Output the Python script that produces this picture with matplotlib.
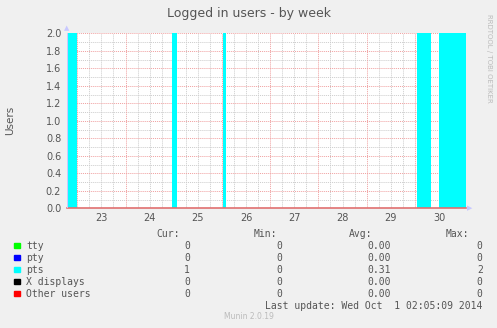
import numpy as np
import matplotlib.pyplot as plt
from matplotlib.transforms import blended_transform_factory

W, H = 497, 328

# Time in days (day of September, 31 = Oct 1), pts as steps
pts_time = [22.78, 22.99, 24.97, 25.06, 26.03, 26.08, 30.05, 30.33, 30.51, 31.06]
pts_value = [2, 0, 2, 0, 2, 0, 2, 0, 2, 2]
x_start, x_end = 22.78, 31.06
day_labels = ['23', '24', '25', '26', '27', '28', '29', '30']

series_names = ['tty', 'pty', 'pts', 'X displays', 'Other users']
series_colors = ['#00ff00', '#0000ff', '#00ffff', '#000000', '#ff0000']
cur_vals = ['0', '0', '1', '0', '0']
min_vals = ['0', '0', '0', '0', '0']
avg_vals = ['0.00', '0.00', '0.31', '0.00', '0.00']
max_vals = ['0', '0', '2', '0', '0']


def px(x, y):
    return x / W, 1 - y / H


fig = plt.figure(figsize=(W / 100, H / 100), dpi=100, facecolor='#f0f0f0')
left, right, top, bottom = 66.7, 466, 33.3, 208.3
ax = fig.add_axes([left / W, 1 - bottom / H, (right - left) / W, (bottom - top) / H])
ax.set_facecolor('white')
ax.set_xlim(x_start, x_end)
ax.set_ylim(0, 2.0)

# grid
for d in np.arange(23, 31.01, 0.25):
    if abs(d - round(d)) < 1e-6:
        continue
    ax.axvline(d, color='#cccccc', lw=0.7, ls=(0, (1, 1)), zorder=1)
for v in np.arange(0.1, 2.0, 0.2):
    ax.axhline(v, color='#cccccc', lw=0.7, ls=(0, (1, 1)), zorder=1)
for d in range(23, 32):
    ax.axvline(d, color='#f0a0a0', lw=0.7, ls=(0, (1, 1)), zorder=1)
for v in np.arange(0.2, 2.01, 0.2):
    ax.axhline(v, color='#f0a0a0', lw=0.7, ls=(0, (1, 1)), zorder=1)

# pts area
ax.fill_between(pts_time, pts_value, step='post', color='#00ffff', lw=0, zorder=2)

# zero series line at baseline
t = [x_start, x_end]
ax.plot(t, [0, 0], color='#e07070', lw=1.2, zorder=3, clip_on=False)

for s in ax.spines.values():
    s.set_visible(False)
ax.axvline(x_start, color='#c8c8ff', lw=0.8, zorder=3)

ax.set_xticks([d + 0.5 for d in range(23, 31)])
ax.set_xticklabels(day_labels)
ax.set_yticks(np.arange(0, 2.01, 0.2))
ax.set_yticklabels(['%.1f' % v for v in np.arange(0, 2.01, 0.2)])
ax.tick_params(axis='both', length=0, labelsize=7, labelcolor='#555555')
ax.tick_params(axis='x', pad=3.5)
ax.tick_params(axis='y', pad=4)

# arrows on axes
fig.text(*px(67, 28.5), '\u25b2', fontsize=5, color='#c8c8ff', ha='center', va='center')
fig.text(*px(470, 208.3), '\u25b6', fontsize=5, color='#c8c8ff', ha='center', va='center')

fig.text(*px(249, 14), 'Logged in users - by week', fontsize=9, color='#555555',
         ha='center', va='center')
fig.text(*px(10, 120), 'Users', fontsize=7.5, color='#555555', rotation=90,
         ha='center', va='center')
fig.text(*px(489, 58), 'RRDTOOL / TOBI OETIKER', fontsize=5, color='#bbbbbb',
         rotation=270, ha='center', va='center')

mono = 'DejaVu Sans Mono'
hy = 233.7
for label, xr in zip(['Cur:', 'Min:', 'Avg:', 'Max:'], [180, 277, 372.7, 469.3]):
    fig.text(*px(xr, hy), label, family=mono, fontsize=7, color='#555555', ha='right', va='center')

for i, name in enumerate(series_names):
    y = 245.7 + 12 * i
    fig.patches.append(plt.Rectangle(px(14, y + 2.7), 5.5 / W, 5.5 / H,
                                     transform=fig.transFigure, color=series_colors[i]))
    fig.text(*px(26.5, y), name, family=mono, fontsize=7, color='#555555', ha='left', va='center')
    for val, xr in zip([cur_vals[i], min_vals[i], avg_vals[i], max_vals[i]], [190, 282, 390.7, 482.7]):
        fig.text(*px(xr, y), val, family=mono, fontsize=7, color='#555555', ha='right', va='center')

fig.text(*px(482.7, 305.7), 'Last update: Wed Oct  1 02:05:09 2014', family=mono, fontsize=7,
         color='#555555', ha='right', va='center')
fig.text(*px(249, 316.7), 'Munin 2.0.19', fontsize=5.5, color='#bbbbbb', ha='center', va='center')

fig.savefig('out.png', dpi=100, facecolor=fig.get_facecolor())
